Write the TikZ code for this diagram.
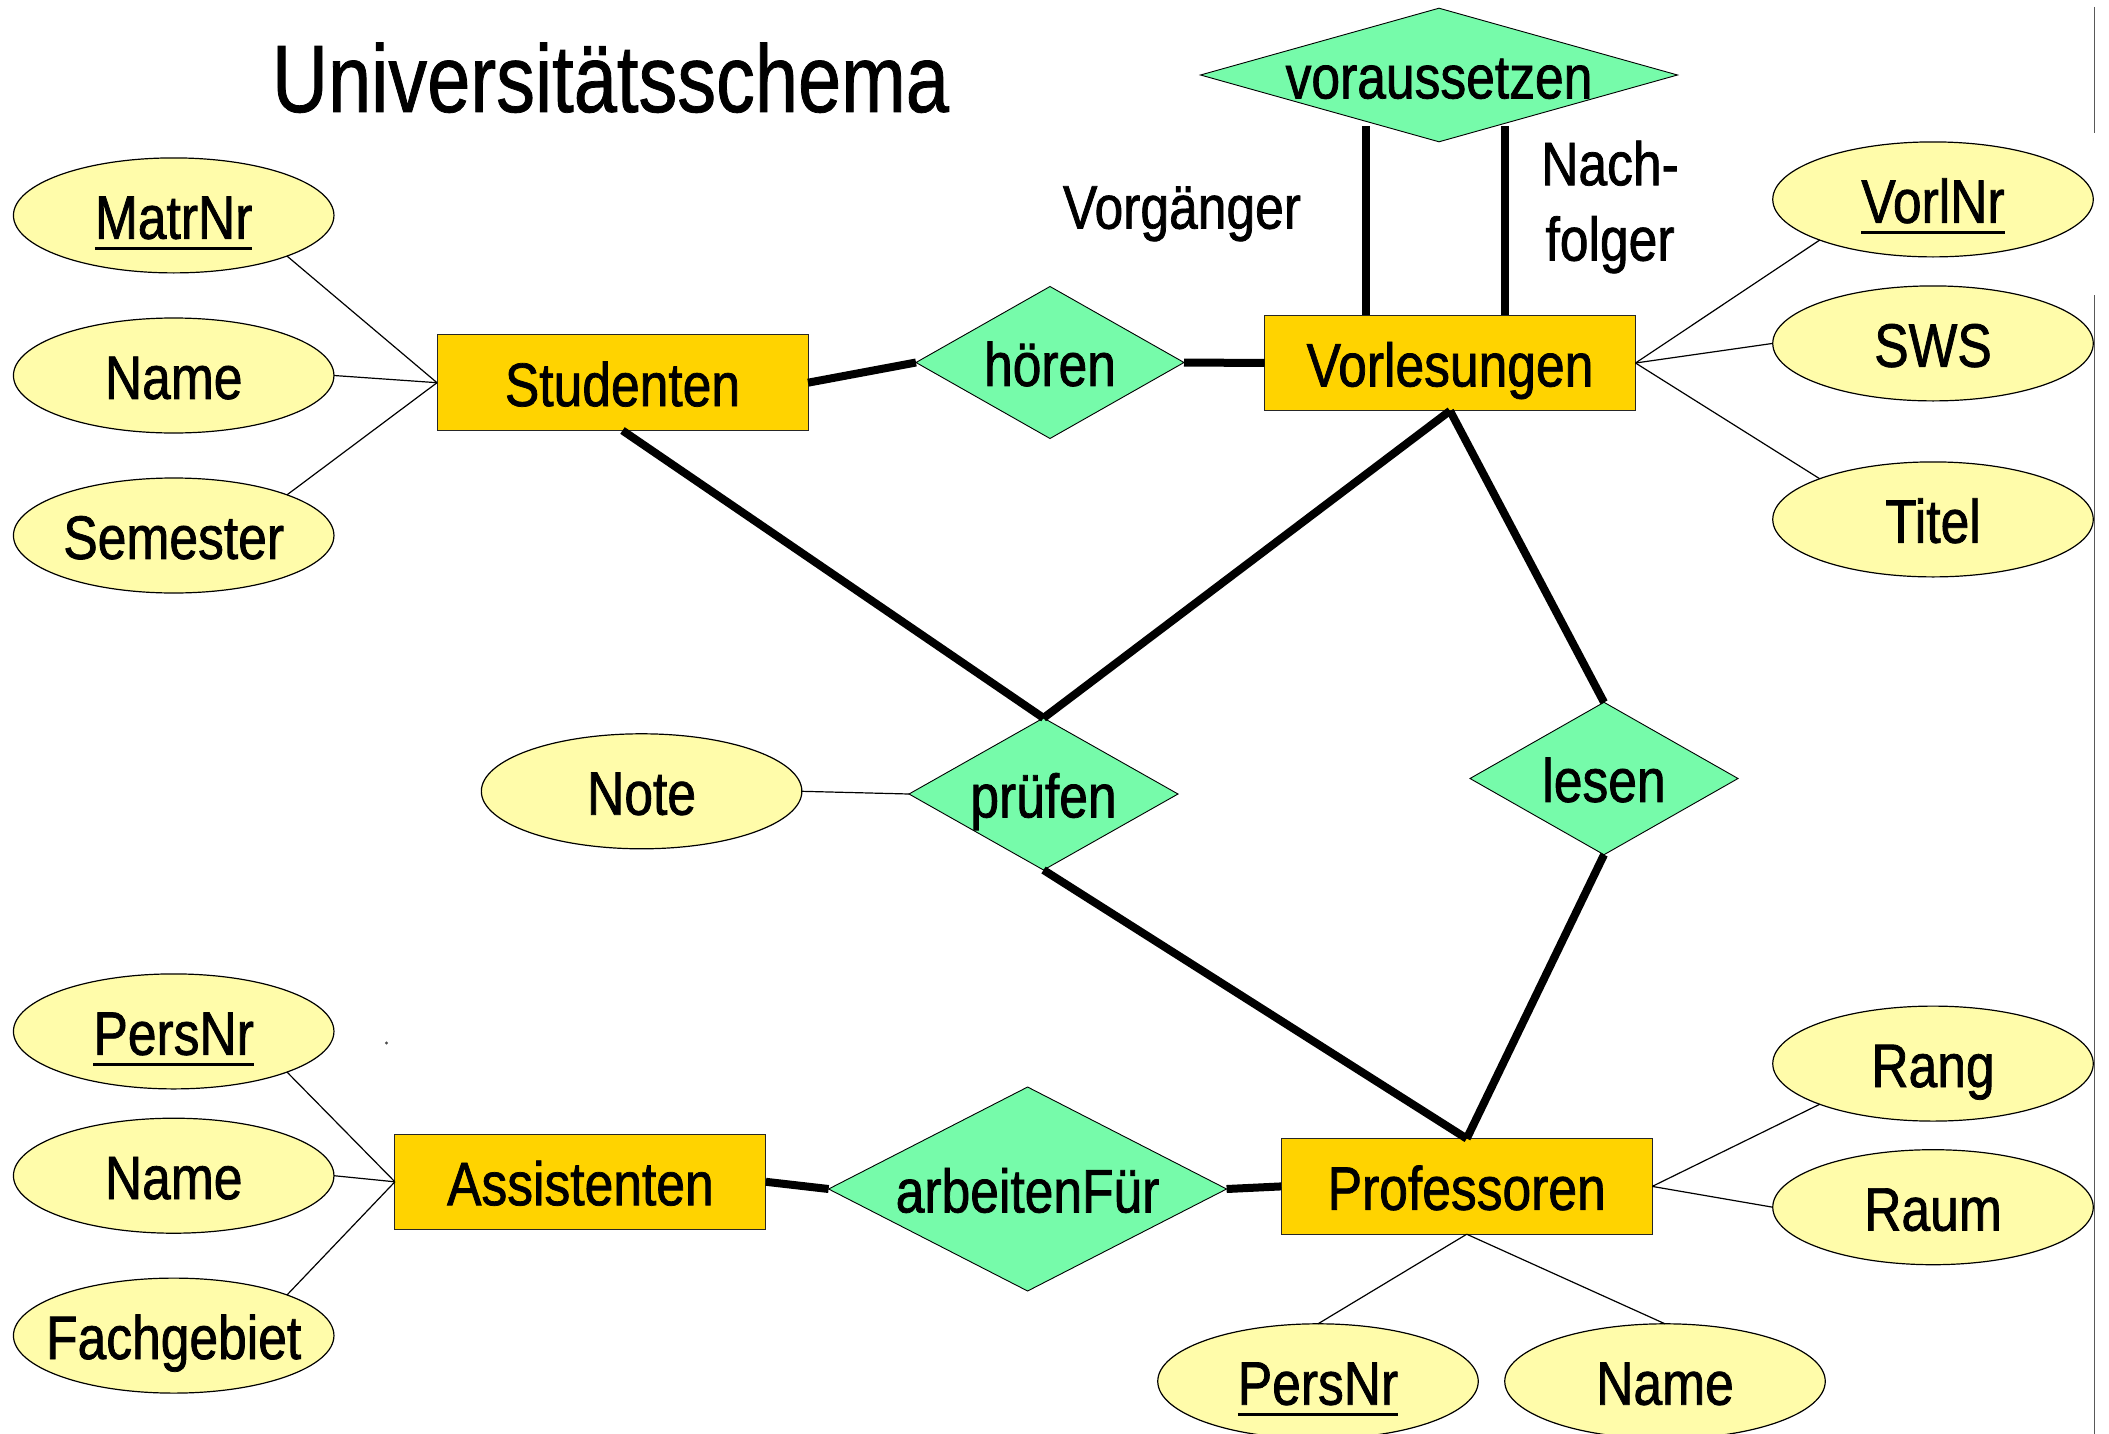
\documentclass[tikz,border=0pt]{standalone}
\usepackage{fontspec}
\setmainfont{Liberation Sans}[FakeStretch=0.84,FakeBold=1.2]
\newfontfamily\titlefont{Liberation Sans}[FakeStretch=0.81,FakeBold=0.8]
\usetikzlibrary{shapes.geometric}

\definecolor{attrfill}{HTML}{FFFCAA}
\definecolor{entfill}{HTML}{FFD300}
\definecolor{relfill}{HTML}{76FBAA}

% primary key attribute: text with a heavy rule below it
\newcommand\pk[1]{\setbox0=\hbox{#1}\rlap{\rule[-5.4pt]{\wd0}{1.5pt}}\box0}

\begin{document}
\begin{tikzpicture}[x=0.5pt,y=-0.5pt,
  every node/.style={inner sep=0pt,outer sep=0pt,
    font=\fontsize{30.7}{37}\selectfont,text height=27pt,text depth=3.6pt},
  attr/.style={ellipse,draw=black,line width=0.6pt,fill=attrfill,
    minimum width=160.25pt,minimum height=57.5pt},
  entity/.style={rectangle,draw=black!85,line width=0.5pt,fill=entfill,
    minimum width=185.5pt,minimum height=47.8pt},
  rel/.style={diamond,draw=black,line width=0.45pt,fill=relfill},
  thin/.style={line width=0.6pt,black},
  heavy/.style={line width=4pt,black},
  plain/.style={text height=,text depth=}]

\useasboundingbox (0,0) rectangle (2109,1434);
\fill[white] (0,0) rectangle (2109,1434);

% page edge marks on the right
\draw[black!65,line width=0.5pt] (2094,7) -- (2094,133);
\draw[black!65,line width=0.5pt] (2094,295) -- (2094,1434);
\fill[black!70] (386.5,1043) circle (0.8pt);

% heading
\node[anchor=base west,plain,font=\titlefont\fontsize{47.9}{57}\selectfont]
  (title) at (272,112) {Universitätsschema};

% entities
\node[entity] (stud) at (622.5,382.7) {Studenten};
\node[entity] (vorl) at (1450,363) {Vorlesungen};
\node[entity] (assi) at (580.4,1181.8) {Assistenten};
\node[entity] (prof) at (1466.7,1186.4) {Professoren};

% relationships
\node[rel,minimum width=134pt,minimum height=76pt,label=center:hören] (hoeren) at (1050,362.5) {};
\node[rel,minimum width=238.5pt,minimum height=66.8pt,label=center:voraussetzen] (vor) at (1439,75) {};
\node[rel,minimum width=134.5pt,minimum height=76pt,label=center:prüfen] (pruef) at (1043.5,794) {};
\node[rel,minimum width=134pt,minimum height=76.2pt,label=center:lesen] (lesen) at (1604,778.5) {};
\node[rel,minimum width=199pt,minimum height=102pt,label=center:arbeitenFür] (arb) at (1027.6,1189) {};

% attributes
\node[attr,label=center:\pk{MatrNr}] (matr) at (173.7,215.4) {};
\node[attr,label=center:Name] (sname) at (173.7,375.5) {};
\node[attr,label=center:Semester] (sem) at (173.7,535.5) {};

\node[attr,label=center:\pk{VorlNr}] (vnr) at (1933,199.4) {};
\node[attr,label=center:SWS] (sws) at (1933,343.4) {};
\node[attr,label=center:Titel] (titel) at (1933,519.4) {};

\node[attr,label=center:Note] (note) at (641.6,791.3) {};

\node[attr,label=center:\pk{PersNr}] (apnr) at (173.7,1031.4) {};
\node[attr,label=center:Name] (aname) at (173.7,1175.7) {};
\node[attr,label=center:Fachgebiet] (fach) at (173.7,1335.6) {};

\node[attr,label=center:Rang] (rang) at (1933,1063.6) {};
\node[attr,label=center:Raum] (raum) at (1933,1207.2) {};
\node[attr,label=center:\pk{PersNr}] (ppnr) at (1318,1381.3) {};
\node[attr,label=center:Name] (pname) at (1665,1381.3) {};

% role names of voraussetzen
\node[anchor=base,plain] (vg) at (1182,228.6) {Vorgänger};
\node[anchor=base,plain] (nf1) at (1610,185.2) {Nach-};
\node[anchor=base,plain] (nf2) at (1610,260.6) {folger};

% attribute links
\draw[thin] (matr.south east) -- (stud.west);
\draw[thin] (sname.east) -- (stud.west);
\draw[thin] (sem.north east) -- (stud.west);
\draw[thin] (vorl.east) -- (vnr.south west);
\draw[thin] (vorl.east) -- (sws.west);
\draw[thin] (vorl.east) -- (titel.north west);
\draw[thin] (note.east) -- (pruef.west);
\draw[thin] (apnr.south east) -- (assi.west);
\draw[thin] (aname.east) -- (assi.west);
\draw[thin] (fach.north east) -- (assi.west);
\draw[thin] (prof.east) -- (rang.south west);
\draw[thin] (prof.east) -- (raum.west);
\draw[thin] (prof.south) -- (ppnr.north);
\draw[thin] (prof.south) -- (pname.north);

% relationship links
\draw[heavy] (stud.east) -- (hoeren.west);
\draw[heavy] (hoeren.east) -- (vorl.west);
\coordinate (vpre) at (1365.8,126);
\coordinate (vsuc) at (1505,126);
\draw[heavy] (vpre) -- (vpre |- vorl.north);
\draw[heavy] (vsuc) -- (vsuc |- vorl.north);
\draw[heavy] (stud.south) -- (pruef.north);
\draw[heavy] (vorl.south) -- (pruef.north);
\draw[heavy] (vorl.south) -- (lesen.north);
\draw[heavy] (pruef.south) -- (prof.north);
\draw[heavy] (lesen.south) -- (prof.north);
\draw[heavy] (assi.east) -- (arb.west);
\draw[heavy] (arb.east) -- (prof.west);
\end{tikzpicture}
\end{document}
